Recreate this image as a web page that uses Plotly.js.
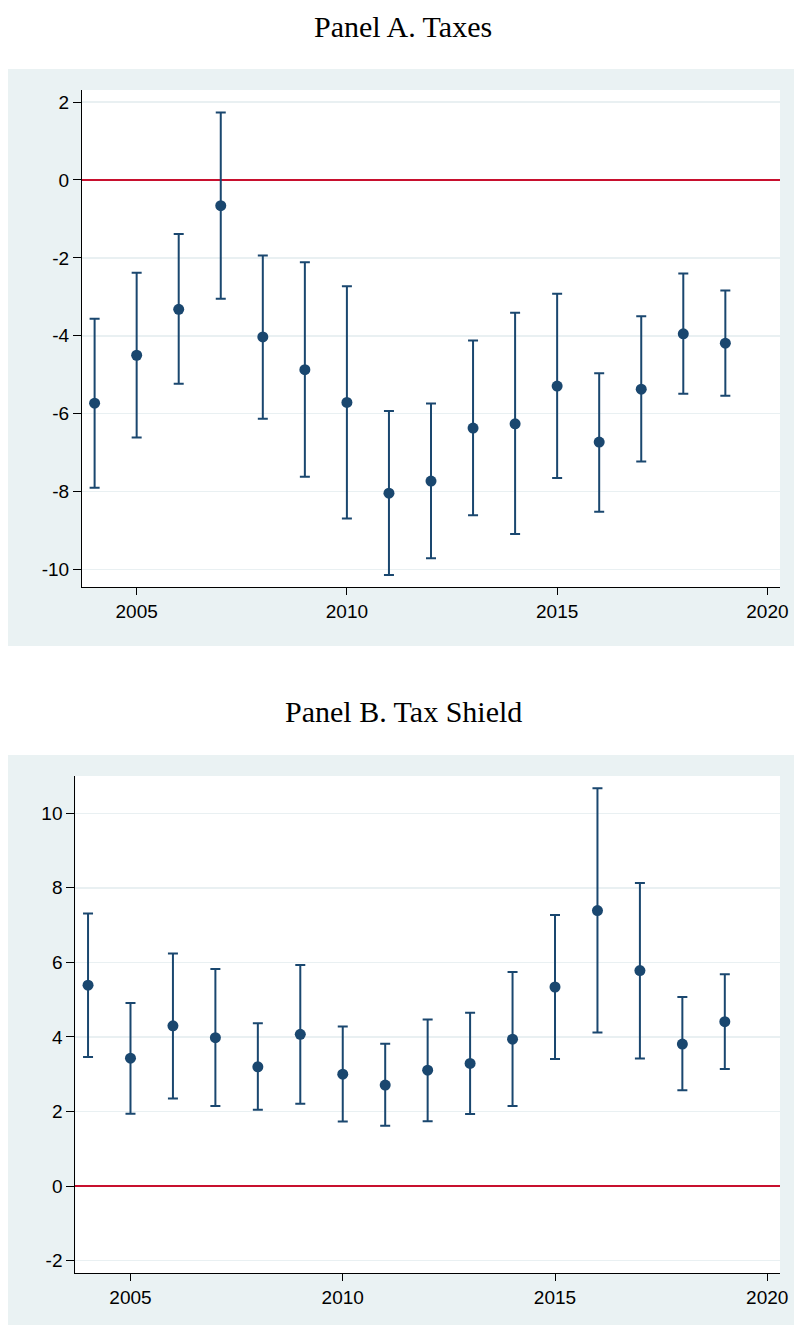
<!DOCTYPE html>
<html>
<head>
<meta charset="utf-8">
<script src="https://cdn.plot.ly/plotly-3.0.1.min.js"></script>
<style>
  html, body { margin: 0; padding: 0; background: #ffffff; }
  #chart { width: 794px; height: 1325px; }
</style>
</head>
<body>
<div id="chart"></div>
<script>
// Event-study coefficients with 95% confidence bounds, by year
const years = [2004, 2005, 2006, 2007, 2008, 2009, 2010, 2011, 2012, 2013, 2014, 2015, 2016, 2017, 2018, 2019];

// Panel A: Taxes
const taxesCoef  = [-5.73, -4.50, -3.32, -0.66, -4.03, -4.87, -5.71, -8.04, -7.73, -6.37, -6.26, -5.29, -6.73, -5.37, -3.95, -4.19];
const taxesUpper = [-3.56, -2.38, -1.39,  1.73, -1.94, -2.11, -2.73, -5.93, -5.74, -4.12, -3.41, -2.92, -4.96, -3.50, -2.40, -2.84];
const taxesLower = [-7.90, -6.61, -5.23, -3.05, -6.13, -7.62, -8.69, -10.14, -9.71, -8.61, -9.09, -7.65, -8.52, -7.23, -5.49, -5.54];

// Panel B: Tax Shield
const shieldCoef  = [5.39, 3.43, 4.30, 3.98, 3.20, 4.07, 3.00, 2.71, 3.11, 3.29, 3.94, 5.34, 7.39, 5.78, 3.81, 4.41];
const shieldUpper = [7.31, 4.91, 6.24, 5.82, 4.37, 5.93, 4.28, 3.82, 4.47, 4.65, 5.74, 7.27, 10.67, 8.13, 5.07, 5.68];
const shieldLower = [3.46, 1.94, 2.35, 2.15, 2.05, 2.21, 1.73, 1.62, 1.74, 1.93, 2.15, 3.41, 4.12, 3.42, 2.57, 3.14];

// Axis ticks (labels use a plain hyphen for negatives)
const yearTicks = [2005, 2010, 2015, 2020];
const taxesTicks = [-10, -8, -6, -4, -2, 0, 2];
const taxesTickText = ['-10', '-8', '-6', '-4', '-2', '0', '2'];
const shieldTicks = [-2, 0, 2, 4, 6, 8, 10];
const shieldTickText = ['-2', '0', '2', '4', '6', '8', '10'];

const panelTitles = ['Panel A. Taxes', 'Panel B. Tax Shield'];

const W = 794, H = 1325;
const navy = '#1a476f';
const frameColor = '#eaf2f3';
const gridColor = '#e9f0f2';
const zeroColor = '#c8102e';

function coefTrace(coef, upper, lower, xa, ya) {
  return {
    type: 'scatter',
    mode: 'markers',
    x: years,
    y: coef,
    xaxis: xa,
    yaxis: ya,
    marker: { color: navy, size: 11 },
    error_y: {
      type: 'data',
      symmetric: false,
      array: upper.map((u, i) => u - coef[i]),
      arrayminus: lower.map((l, i) => coef[i] - l),
      color: navy,
      thickness: 2,
      width: 5
    },
    showlegend: false,
    hoverinfo: 'x+y'
  };
}

const data = [
  coefTrace(taxesCoef, taxesUpper, taxesLower, 'x', 'y'),
  coefTrace(shieldCoef, shieldUpper, shieldLower, 'x2', 'y2')
];

const tickFont = { family: 'Liberation Sans, Arial, sans-serif', size: 19, color: '#000000' };

function xAxis(domain, anchor) {
  return {
    domain: domain,
    anchor: anchor,
    range: [2003.7, 2020.3],
    tickmode: 'array',
    tickvals: yearTicks,
    ticktext: yearTicks.map(String),
    ticks: 'outside',
    ticklen: 7,
    tickwidth: 1,
    tickcolor: '#000000',
    showline: true,
    linecolor: '#000000',
    linewidth: 1,
    showgrid: false,
    zeroline: false,
    tickfont: tickFont
  };
}

function yAxis(domain, anchor, range, vals, text) {
  return {
    domain: domain,
    anchor: anchor,
    range: range,
    tickmode: 'array',
    tickvals: vals,
    ticktext: text,
    ticks: 'outside',
    ticklen: 8,
    tickwidth: 1,
    tickcolor: '#000000',
    showline: true,
    linecolor: '#000000',
    linewidth: 1,
    showgrid: true,
    gridcolor: gridColor,
    gridwidth: 1.5,
    zeroline: true,
    zerolinecolor: zeroColor,
    zerolinewidth: 1.5,
    tickfont: tickFont
  };
}

// pixel helpers for paper coordinates
const px = v => v / W;
const py = v => 1 - v / H;

const domA = { x: [px(82), px(780)], y: [py(587), py(90)] };
const domB = { x: [px(75.3), px(780)], y: [py(1273.3), py(776)] };

function rect(x0, y0, x1, y1, color) {
  return {
    type: 'rect', xref: 'paper', yref: 'paper', layer: 'below',
    x0: px(x0), x1: px(x1), y0: py(y1), y1: py(y0),
    fillcolor: color, line: { width: 0 }
  };
}

const titleFont = { family: 'Liberation Serif, Times New Roman, serif', size: 30, color: '#000000' };

const layout = {
  width: W,
  height: H,
  margin: { l: 0, r: 0, t: 0, b: 0 },
  paper_bgcolor: '#ffffff',
  plot_bgcolor: '#ffffff',
  showlegend: false,
  xaxis: xAxis(domA.x, 'y'),
  yaxis: yAxis(domA.y, 'x', [-10.45, 2.31], taxesTicks, taxesTickText),
  xaxis2: xAxis(domB.x, 'y2'),
  yaxis2: yAxis(domB.y, 'x2', [-2.34, 11.0], shieldTicks, shieldTickText),
  shapes: [
    rect(8, 69, 794, 646, frameColor),
    rect(82, 90, 780, 587, '#ffffff'),
    rect(8, 755, 794, 1325, frameColor),
    rect(75.3, 776, 780, 1273.3, '#ffffff')
  ],
  annotations: [
    {
      text: panelTitles[0], xref: 'paper', yref: 'paper',
      x: px(403), y: py(27), xanchor: 'center', yanchor: 'middle',
      showarrow: false, font: titleFont
    },
    {
      text: panelTitles[1], xref: 'paper', yref: 'paper',
      x: px(403), y: py(712), xanchor: 'center', yanchor: 'middle',
      showarrow: false, font: titleFont
    }
  ]
};

Plotly.newPlot('chart', data, layout, { displayModeBar: false, staticPlot: true });
</script>
</body>
</html>
